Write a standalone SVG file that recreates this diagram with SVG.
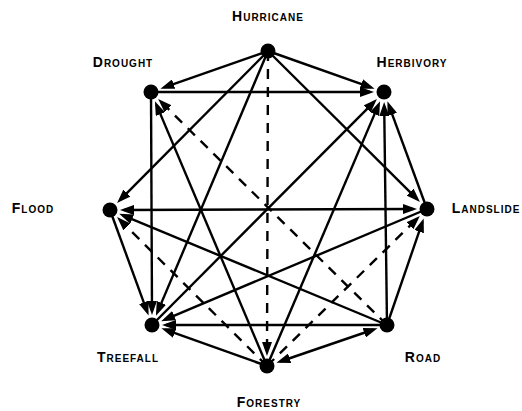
<svg xmlns="http://www.w3.org/2000/svg" width="522" height="411" viewBox="0 0 522 411">
<style>
.e{stroke:#000;stroke-width:2.4;fill:none;marker-end:url(#ah)}
.d{stroke-dasharray:10 8}
.b{marker-start:url(#ah)}
.n{fill:#000}
.t{font-family:"Liberation Sans",Arial,Helvetica,sans-serif;font-weight:bold;font-size:10px;letter-spacing:1px;text-anchor:middle;fill:#000}
.c{font-size:14px}
</style>
<defs>
<marker id="ah" viewBox="0 0 14 10" refX="10" refY="5" markerWidth="14" markerHeight="10" markerUnits="userSpaceOnUse" orient="auto-start-reverse">
<path d="M0,0 L14,5 L0,10 z" fill="#000" stroke="none"/>
</marker>
</defs>
<rect width="522" height="411" fill="#fff"/>
<g id="connectors">
<line class="e" x1="268" y1="51" x2="164.2" y2="87.4"/>
<line class="e" x1="268" y1="51" x2="370.8" y2="87.3"/>
<line class="e" x1="268" y1="51" x2="119.9" y2="200.1"/>
<line class="e" x1="268" y1="51" x2="157.5" y2="312.1"/>
<line class="e d" x1="268" y1="51" x2="267" y2="352"/>
<line class="e" x1="268" y1="51" x2="417.1" y2="199.1"/>
<line class="e" x1="151" y1="92" x2="370" y2="92"/>
<line class="e" x1="151" y1="92" x2="152" y2="311"/>
<line class="e" x1="267" y1="366" x2="156.5" y2="104.9"/>
<line class="e d" x1="387" y1="325" x2="161" y2="101.8"/>
<line class="e" x1="152" y1="325" x2="374.1" y2="101.9"/>
<line class="e" x1="267" y1="366" x2="378.5" y2="104.9"/>
<line class="e" x1="387" y1="325" x2="384.2" y2="106"/>
<line class="e" x1="427" y1="209" x2="388.8" y2="105.1"/>
<line class="e b" x1="124" y1="210" x2="413" y2="209"/>
<line class="e d" x1="267" y1="366" x2="417" y2="218.8"/>
<line class="e" x1="387" y1="325" x2="422.4" y2="222.2"/>
<line class="e" x1="427" y1="209" x2="164.9" y2="319.6"/>
<line class="e" x1="387" y1="325" x2="122.9" y2="215.4"/>
<line class="e d" x1="267" y1="366" x2="119.9" y2="219.9"/>
<line class="e" x1="110" y1="210" x2="147.2" y2="311.8"/>
<line class="e" x1="387" y1="325" x2="166" y2="325"/>
<line class="e" x1="267" y1="366" x2="165.2" y2="329.7"/>
<line class="e b" x1="373.7" y1="329.5" x2="280.2" y2="361.5"/>
</g>
<g id="hurricane"><circle class="n" cx="268" cy="51" r="7.5"/><text class="t" x="268" y="21"><tspan class="c">H</tspan>URRICANE</text></g>
<g id="herbivory"><circle class="n" cx="384" cy="92" r="7.5"/><text class="t" x="412" y="67"><tspan class="c">H</tspan>ERBIVORY</text></g>
<g id="landslide"><circle class="n" cx="427" cy="209" r="7.5"/><text class="t" x="486" y="213"><tspan class="c">L</tspan>ANDSLIDE</text></g>
<g id="road"><circle class="n" cx="387" cy="325" r="7.5"/><text class="t" x="423" y="362"><tspan class="c">R</tspan>OAD</text></g>
<g id="forestry"><circle class="n" cx="267" cy="366" r="7.5"/><text class="t" x="269" y="407"><tspan class="c">F</tspan>ORESTRY</text></g>
<g id="treefall"><circle class="n" cx="152" cy="325" r="7.5"/><text class="t" x="128" y="362"><tspan class="c">T</tspan>REEFALL</text></g>
<g id="flood"><circle class="n" cx="110" cy="210" r="7.5"/><text class="t" x="33" y="213"><tspan class="c">F</tspan>LOOD</text></g>
<g id="drought"><circle class="n" cx="151" cy="92" r="7.5"/><text class="t" x="123" y="67"><tspan class="c">D</tspan>ROUGHT</text></g>
</svg>
